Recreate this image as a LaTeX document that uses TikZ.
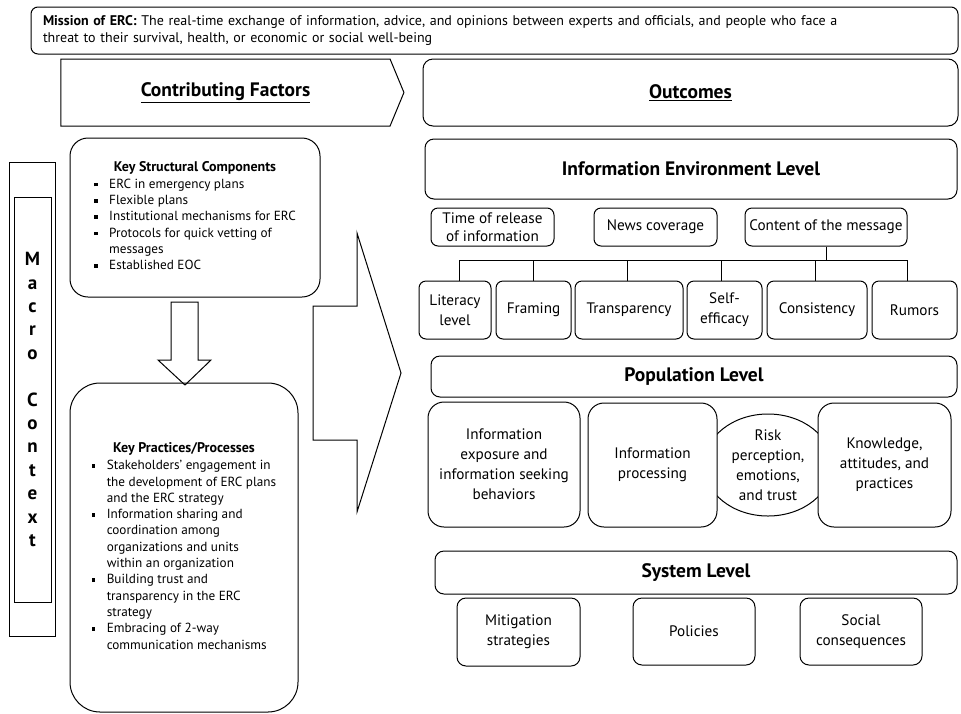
\documentclass[tikz,border=0pt]{standalone}
\usepackage{fontspec}
\setmainfont{PT Sans}
\usetikzlibrary{positioning, shapes.geometric, shapes.symbols, calc}
\newcommand{\sqbul}{\rule[0.28ex]{3.6pt}{3.6pt}}

\begin{document}
\begin{tikzpicture}[
  x=1pt, y=-1pt,
  line width=1pt,
  every node/.style={inner sep=0pt, align=center},
  pill/.style={draw, rounded corners=7pt, font=\fontsize{15.2}{20}\selectfont},
  softbox/.style={draw, rounded corners=16pt, font=\fontsize{15.2}{20}\selectfont},
  levelbox/.style={draw, rounded corners=9pt, font=\fontsize{19.5}{22}\selectfont\bfseries},
  listbox/.style={draw, font=\fontsize{13.2}{16.3}\selectfont},
  listhead/.style={font=\fontsize{14}{16.3}\selectfont\bfseries},
  headline/.style={font=\fontsize{19.5}{22}\selectfont\bfseries},
  link/.style={draw, line width=1pt}
]
\useasboundingbox (0,0) rectangle (961,713);

% mission statement
\node[draw, rounded corners=7pt, minimum width=927pt, minimum height=47pt,
  text width=903pt, align=left, font=\fontsize{14}{17}\selectfont] (mission) at (494.5,30.5)
  {\textbf{Mission of ERC:} The real-time exchange of information, advice, and opinions between experts and officials, and people who face a\\
   threat to their survival, health, or economic or social well-being};

% column headers
\node[draw, signal, signal to=east, signal pointer angle=135, minimum width=343pt,
  minimum height=67pt, headline] (contrib) at (225.5,92.5) {\underline{Contributing Factors}};
\node[draw, rounded corners=10pt, minimum width=535pt, minimum height=67pt, headline]
  (outcomes) at (690.5,92.5) {\underline{Outcomes}};

% macro context
\node[draw, minimum width=46pt, minimum height=474pt] (macro) at (32,399) {};
\node[draw, minimum width=37pt, minimum height=405pt, font=\fontsize{19}{23.4}\selectfont\bfseries]
  (context) at (32.5,399.5) {M\\a\\c\\r\\o\\ \\C\\o\\n\\t\\e\\x\\t};

% contributing factors
\node[listbox, rounded corners=18pt, minimum width=250pt, minimum height=159pt] (struct) at (195,217.5) {%
  \begin{tabular}{@{}p{15pt}@{}l@{}}
  \multicolumn{2}{c}{\usefont{TU}{\rmdefault}{b}{n}\fontsize{14}{16.3}\selectfont Key Structural Components}\\
  \sqbul & ERC in emergency plans\\
  \sqbul & Flexible plans\\
  \sqbul & Institutional mechanisms for ERC\\
  \sqbul & Protocols for quick vetting of\\
         & messages\\
  \sqbul & Established EOC
  \end{tabular}};

\node[listbox, rounded corners=30pt, minimum width=228pt, minimum height=329pt] (practice) at (184,547.5) {%
  \begin{tabular}{@{}p{15pt}@{}l@{}}
  \multicolumn{2}{c}{\usefont{TU}{\rmdefault}{b}{n}\fontsize{14}{16.3}\selectfont Key Practices/Processes}\\[1pt]
  \sqbul & Stakeholders’ engagement in\\
         & the development of ERC plans\\
         & and the ERC strategy\\
  \sqbul & Information sharing and\\
         & coordination among\\
         & organizations and units\\
         & within an organization\\
  \sqbul & Building trust and\\
         & transparency in the ERC\\
         & strategy\\
  \sqbul & Embracing of 2-way\\
         & communication mechanisms
  \end{tabular}};

% block arrows
\draw (171,302) -- (198,302) -- (198,360) -- (211,360) -- (185,385) -- (158,360) -- (171,360) -- cycle;
\draw (313,306) -- (357,306) -- (357,233) -- (401,373) -- (357,512) -- (357,440) -- (313,440) -- cycle;

% information environment level
\node[levelbox, minimum width=532pt, minimum height=60pt] (infoenv) at (691,169) {Information Environment Level};

\node[pill, minimum width=123pt, minimum height=38pt, font=\fontsize{15.2}{18}\selectfont] (release) at (492.5,227) {Time of release\\of information};
\node[pill, minimum width=123pt, minimum height=38pt] (news) at (655.5,227) {News coverage};
\node[pill, minimum width=162pt, minimum height=38pt] (content) at (826,227) {Content of the message};

\node[pill, minimum width=72pt, minimum height=58pt] (literacy) at (455,310) {Literacy\\level};
\node[pill, minimum width=75pt, minimum height=58pt] (framing) at (533.5,310) {Framing};
\node[pill, minimum width=108pt, minimum height=58pt] (transp) at (629,310) {Transparency};
\node[pill, minimum width=75pt, minimum height=58pt] (selfeff) at (724.5,310) {Self-\\efficacy};
\node[pill, minimum width=100pt, minimum height=58pt] (consist) at (817,310) {Consistency};
\node[pill, minimum width=85pt, minimum height=58pt] (rumors) at (914.5,310) {Rumors};

\coordinate (bus) at (826,260);
\draw[link] (content.south) -- (bus);
\draw[link] ([xshift=4pt]literacy.north |- bus) -- ([xshift=-7pt]rumors.north |- bus);
\foreach \n/\dx in {literacy/4, framing/0, transp/-2, selfeff/-3, consist/-2, rumors/-7}
  \draw[link] ([xshift=\dx pt]\n.north |- bus) -- ([xshift=\dx pt]\n.north);

% population level
\node[levelbox, minimum width=526pt, minimum height=41pt] (population) at (694,376.5) {Population Level};

\node[draw, ellipse, minimum width=128pt, minimum height=102pt, font=\fontsize{15.2}{20}\selectfont] (risk) at (768,465)
  {Risk\\perception,\\emotions,\\and trust};
\node[softbox, fill=white, minimum width=152pt, minimum height=125pt] (exposure) at (504,464.5)
  {Information\\exposure and\\information seeking\\behaviors};
\node[softbox, fill=white, minimum width=129pt, minimum height=124pt] (processing) at (652.5,465)
  {Information\\processing};
\node[softbox, fill=white, minimum width=133pt, minimum height=124pt] (knowledge) at (884.5,465)
  {Knowledge,\\attitudes, and\\practices};

% system level
\node[levelbox, minimum width=522pt, minimum height=43pt] (system) at (696,572.5) {System Level};

\node[pill, rounded corners=9pt, minimum width=123pt, minimum height=68pt] (mitigation) at (518.5,632) {Mitigation\\strategies};
\node[pill, rounded corners=9pt, minimum width=122pt, minimum height=67pt] (policies) at (694,631.5) {Policies};
\node[pill, rounded corners=9pt, minimum width=122pt, minimum height=67pt] (social) at (861,631.5) {Social\\consequences};

\end{tikzpicture}
\end{document}
